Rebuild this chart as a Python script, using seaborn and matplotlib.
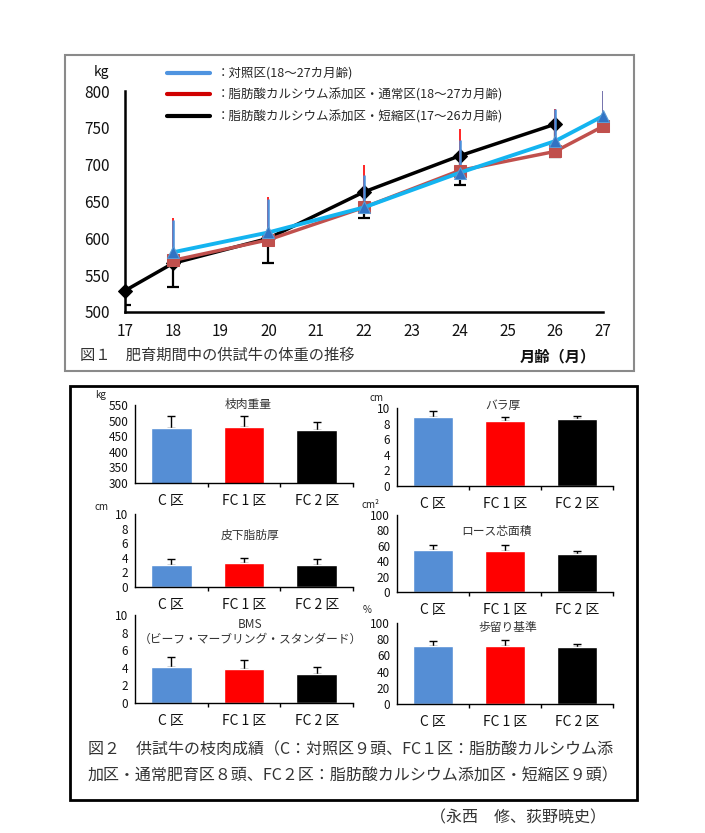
import numpy as np
import pandas as pd
import matplotlib
matplotlib.use("Agg")
import matplotlib.pyplot as plt
import seaborn as sns
from matplotlib.patches import Rectangle
from matplotlib.lines import Line2D

sns.set_theme(style="white")
plt.rcParams["font.family"] = ["Noto Sans CJK JP", "DejaVu Sans"]
plt.rcParams["axes.unicode_minus"] = False

# ---------------- Figure 1 data ----------------
months_c = [18, 20, 22, 24, 26, 27]
weight_c = [581, 608, 642, 689, 732, 766]
sd_c = [44, 45, 44, 45, 44, 45]

months_fc1 = [18, 20, 22, 24, 26, 27]
weight_fc1 = [570, 598, 642, 692, 718, 752]
sd_fc1 = [58, 58, 57, 57, 57, 57]

months_fc2 = [17, 18, 20, 22, 24, 26]
weight_fc2 = [529, 566, 600, 663, 712, 755]
sd_fc2 = [20, 32, 33, 36, 40, 45]

month_ticks = list(range(17, 28))
weight_ticks = [500, 550, 600, 650, 700, 750, 800]

legend_labels = [
    "：対照区(18～27カ月齢)",
    "：脂肪酸カルシウム添加区・通常区(18～27カ月齢)",
    "：脂肪酸カルシウム添加区・短縮区(17～26カ月齢)",
]

# ---------------- Figure 2 data ----------------
groups = ["C 区", "FC 1 区", "FC 2 区"]

carcass_weight = [476, 480, 471]
carcass_weight_sd = [40, 34, 26]
rib_thickness = [8.84, 8.32, 8.53]
rib_thickness_sd = [0.82, 0.52, 0.44]
subcut_fat = [3.0, 3.24, 3.0]
subcut_fat_sd = [0.84, 0.73, 0.80]
rib_eye_area = [54.3, 53.5, 49.6]
rib_eye_area_sd = [6.1, 7.8, 3.9]
bms = [4.1, 3.9, 3.27]
bms_sd = [1.09, 0.95, 0.86]
yield_std = [71.7, 71.3, 70.9]
yield_std_sd = [6.2, 7.7, 3.7]

W, H = 705, 833
fig = plt.figure(figsize=(W / 100, H / 100), dpi=100)
fig.patch.set_facecolor("white")


def add_ax(l, t, r, b):
    return fig.add_axes([l / W, 1 - b / H, (r - l) / W, (b - t) / H])


def ftext(x, y, s, **kw):
    return fig.text(x / W, 1 - y / H, s, **kw)


# frames
fig.patches.append(Rectangle((65 / W, 1 - 371 / H), (634 - 65) / W, (371 - 55) / H,
                             transform=fig.transFigure, fill=False,
                             edgecolor="#8a8a8a", lw=1.5))
fig.patches.append(Rectangle((70 / W, 1 - 800 / H), (637 - 70) / W, (800 - 386) / H,
                             transform=fig.transFigure, fill=False,
                             edgecolor="black", lw=2))

# ---------------- Figure 1 ----------------
ax = add_ax(125, 91, 603, 312)
ax.set_facecolor("white")

col_c_line = "#14B4F0"
col_c_mark = "#3173C4"
col_c_err = "#4A8FDB"
col_fc1 = "#C0504D"

# black (FC2)
ax.errorbar(months_fc2, weight_fc2, yerr=[sd_fc2, [0] * len(sd_fc2)], fmt="none",
            ecolor="black", elinewidth=1.6, capsize=4, capthick=1.6, zorder=2)
sns.lineplot(x=months_fc2, y=weight_fc2, ax=ax, color="black", lw=2.5,
             marker="D", markersize=7, markeredgecolor="black", clip_on=False, zorder=3)
# red (FC1)
ax.errorbar(months_fc1, weight_fc1, yerr=[[0] * len(sd_fc1), sd_fc1], fmt="none",
            ecolor="#FF0000", elinewidth=1.2, capsize=0, zorder=4)
# blue (C)
ax.errorbar(months_c, weight_c, yerr=[[0] * len(sd_c), sd_c], fmt="none",
            ecolor=col_c_err, elinewidth=1.8, capsize=0, zorder=4.5)
sns.lineplot(x=months_fc1, y=weight_fc1, ax=ax, color=col_fc1, lw=2.5,
             marker="s", markersize=8, markeredgecolor=col_fc1, clip_on=False, zorder=5)
sns.lineplot(x=months_c, y=weight_c, ax=ax, color=col_c_line, lw=2.8,
             marker="^", markersize=8, markerfacecolor=col_c_mark,
             markeredgecolor="#5B9BD5", clip_on=False, zorder=6)

ax.set_xlim(17, 27)
ax.set_ylim(500, 800)
ax.set_xticks(month_ticks)
ax.set_yticks(weight_ticks)
ax.tick_params(axis="both", direction="out", length=5, width=1.5, colors="black",
               labelsize=11, labelcolor="#111111")
ax.tick_params(axis="x", pad=3)
ax.tick_params(axis="y", pad=6)
for s in ["top", "right"]:
    ax.spines[s].set_visible(False)
for s in ["left", "bottom"]:
    ax.spines[s].set_color("black")
    ax.spines[s].set_linewidth(1.8)
ax.set_xlabel("")
ax.set_ylabel("")

handles = [Line2D([0], [0], color="#4F94E0", lw=3),
           Line2D([0], [0], color="#D00000", lw=3),
           Line2D([0], [0], color="black", lw=3)]
ax.legend(handles, legend_labels, loc="upper left",
          bbox_to_anchor=(167 / W, 1 - 67 / H), bbox_transform=fig.transFigure,
          frameon=False, fontsize=9, handlelength=3.4, handletextpad=0.6,
          labelspacing=0.68, borderpad=0, borderaxespad=0)

ftext(101, 72, "kg", fontsize=10, ha="center", va="center", color="#111111")
ftext(80, 355, "図１　肥育期間中の供試牛の体重の推移", fontsize=11,
      ha="left", va="center", color="#333333")
ftext(558, 356, "月齢（月）", fontsize=11, ha="center", va="center",
      color="#111111", fontweight="bold")

# ---------------- Figure 2 ----------------
bar_colors = ["#558ED5", "#FF0000", "#000000"]

panels = [
    # (l, t, r, b, values, sd, ylim, yticks, title, title_xy, unit, unit_xy)
    (135, 405, 353, 483, carcass_weight, carcass_weight_sd, (300, 550),
     [300, 350, 400, 450, 500, 550], "枝肉重量", (248, 404), "kg", (101, 395)),
    (397, 408, 613, 486, rib_thickness, rib_thickness_sd, (0, 10),
     [0, 2, 4, 6, 8, 10], "バラ厚", (503, 405), "cm", (376, 398)),
    (135, 514, 353, 587, subcut_fat, subcut_fat_sd, (0, 10),
     [0, 2, 4, 6, 8, 10], "皮下脂肪厚", (250, 535), "cm", (101, 507)),
    (397, 515, 613, 592, rib_eye_area, rib_eye_area_sd, (0, 100),
     [0, 20, 40, 60, 80, 100], "ロース芯面積", (497, 531), "cm²", (371, 505)),
    (135, 615, 353, 703, bms, bms_sd, (0, 10),
     [0, 2, 4, 6, 8, 10], "BMS\n（ビーフ・マーブリング・スタンダード）", (250, 632), None, None),
    (397, 623, 613, 704, yield_std, yield_std_sd, (0, 100),
     [0, 20, 40, 60, 80, 100], "歩留り基準", (508, 627), "%", (367, 610)),
]

for (l, t, r, b, vals, sds, ylim, yticks, title, txy, unit, uxy) in panels:
    bx = add_ax(l, t, r, b)
    bx.set_facecolor("none")
    df = pd.DataFrame({"group": groups, "value": vals})
    sns.barplot(data=df, x="group", y="value", hue="group", palette=bar_colors,
                order=groups, hue_order=groups, dodge=False, width=0.56,
                saturation=1, legend=False, ax=bx, zorder=2)
    bx.errorbar([0, 1, 2], vals, yerr=[[0, 0, 0], sds], fmt="none", ecolor="black",
                elinewidth=1.0, capsize=3, capthick=1.0, zorder=1)
    bx.set_xlim(-0.5, 2.5)
    bx.set_ylim(*ylim)
    bx.set_yticks(yticks)
    bx.set_xlabel("")
    bx.set_ylabel("")
    bx.set_xticks([0, 1, 2])
    bx.set_xticklabels(groups)
    bx.set_xticks([0.5, 1.5, 2.5], minor=True)
    bx.tick_params(axis="x", which="major", length=0, pad=8, labelsize=10,
                   labelcolor="#111111")
    bx.tick_params(axis="x", which="minor", direction="out", length=3, width=1,
                   color="black", bottom=True)
    bx.tick_params(axis="y", direction="out", length=3, width=1, color="black",
                   labelsize=8.5, pad=2, labelcolor="#111111")
    for s in ["top", "right"]:
        bx.spines[s].set_visible(False)
    for s in ["left", "bottom"]:
        bx.spines[s].set_color("black")
        bx.spines[s].set_linewidth(1.0)
    ftext(txy[0], txy[1], title, fontsize=8.5, ha="center", va="center",
          color="#333333", linespacing=1.1)
    if unit:
        ftext(uxy[0], uxy[1], unit, fontsize=7, ha="center", va="center",
              color="#222222")

ftext(88, 750, "図２　供試牛の枝肉成績（C：対照区９頭、FC１区：脂肪酸カルシウム添",
      fontsize=11.5, ha="left", va="center", color="#333333")
ftext(88, 776, "加区・通常肥育区８頭、FC２区：脂肪酸カルシウム添加区・短縮区９頭）",
      fontsize=11.5, ha="left", va="center", color="#333333")
ftext(430, 818, "（永西　修、荻野暁史）", fontsize=11.5, ha="left", va="center",
      color="#333333")

fig.savefig("out.png", dpi=100, facecolor="white")
